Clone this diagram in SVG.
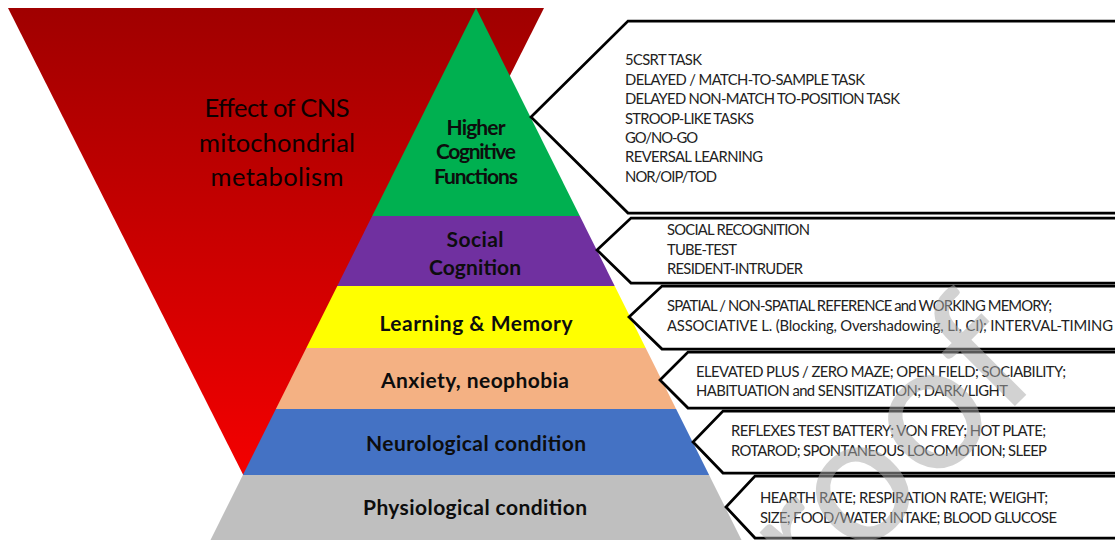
<svg xmlns="http://www.w3.org/2000/svg" width="1115" height="540" viewBox="0 0 1115 540">
  <defs>
    <linearGradient id="redFade" gradientUnits="userSpaceOnUse" x1="0" y1="8" x2="0" y2="540">
      <stop offset="0" stop-color="#A00000"/>
      <stop offset="1" stop-color="#FF0000"/>
    </linearGradient>
  </defs>
  <style>
    .lvl { font-family: Lato, "Liberation Sans", sans-serif; font-weight: bold; font-size: 21px; fill: #0d0d0d; text-anchor: middle; }
    .effect { font-family: Lato, "Liberation Sans", sans-serif; font-size: 25.5px; fill: #0d0000; text-anchor: middle; }
    .box { fill: #ffffff; stroke: #000000; stroke-width: 2.75; stroke-linejoin: miter; }
    .item { font-family: Lato, "Liberation Sans", sans-serif; font-size: 14.8px; fill: #222222; }
    .mark { font-family: Lato, "Liberation Sans", sans-serif; font-size: 180px; fill: #a8a8a8; fill-opacity: 0.52; }
  </style>

  <rect width="1115" height="540" fill="#ffffff"/>

  <!-- inverted triangle: metabolic effect -->
  <g id="cns-effect">
    <polygon points="8,8 544,8 276,540" fill="url(#redFade)"/>
    <text class="effect" x="277" y="117" textLength="145">Effect of CNS</text>
    <text class="effect" x="277" y="152" textLength="156">mitochondrial</text>
    <text class="effect" x="277" y="186" textLength="133">metabolism</text>
  </g>

  <!-- pyramid levels, apex (476,8), base y=540 -->
  <g id="level-higher-cognitive">
    <polygon points="476,8 579.8,216 372.2,216" fill="#00B050"/>
    <text class="lvl" x="476" y="135" font-size="18.5" textLength="59">Higher</text>
    <text class="lvl" x="476" y="159" font-size="18.5" textLength="80">Cognitive</text>
    <text class="lvl" x="476" y="184" font-size="18.5" textLength="84">Functions</text>
  </g>
  <g id="level-social">
    <polygon points="372.2,216 579.8,216 614.7,286 337.3,286" fill="#7030A0"/>
    <text class="lvl" x="475" y="247" textLength="57">Social</text>
    <text class="lvl" x="475" y="275" textLength="92">Cognition</text>
  </g>
  <g id="level-learning">
    <polygon points="337.3,286 614.7,286 645.7,348 306.3,348" fill="#FFFF00"/>
    <text class="lvl" x="476" y="331" textLength="193">Learning &amp; Memory</text>
  </g>
  <g id="level-anxiety">
    <polygon points="306.3,348 645.7,348 676.1,409 275.9,409" fill="#F4B183"/>
    <text class="lvl" x="475" y="388" textLength="188">Anxiety, neophobia</text>
  </g>
  <g id="level-neurological">
    <polygon points="275.9,409 676.1,409 709.1,475 242.9,475" fill="#4472C4"/>
    <text class="lvl" x="476" y="451" textLength="220">Neurological condition</text>
  </g>
  <g id="level-physiological">
    <polygon points="242.9,475 709.1,475 741.5,540 210.5,540" fill="#BFBFBF"/>
    <text class="lvl" x="475" y="515" textLength="224">Physiological condition</text>
  </g>

  <!-- test callouts pointing at each level -->
  <g id="tests-higher-cognitive">
    <polygon class="box" points="628,21 1125,21 1125,213 628,213 531,117"/>
    <text class="item" x="625" y="65" textLength="77">5CSRT TASK</text>
    <text class="item" x="625" y="84.5" textLength="240">DELAYED / MATCH-TO-SAMPLE TASK</text>
    <text class="item" x="625" y="104" textLength="275">DELAYED NON-MATCH TO-POSITION TASK</text>
    <text class="item" x="625" y="123.5" textLength="129">STROOP-LIKE TASKS</text>
    <text class="item" x="625" y="143" textLength="73">GO/NO-GO</text>
    <text class="item" x="625" y="162" textLength="138">REVERSAL LEARNING</text>
    <text class="item" x="625" y="182" textLength="92">NOR/OIP/TOD</text>
  </g>
  <g id="tests-social">
    <polygon class="box" points="631,218 1125,218 1125,283 631,283 597,250"/>
    <text class="item" x="667" y="235" textLength="143">SOCIAL RECOGNITION</text>
    <text class="item" x="667" y="254.5" textLength="70">TUBE-TEST</text>
    <text class="item" x="667" y="274" textLength="136">RESIDENT-INTRUDER</text>
  </g>
  <g id="tests-learning">
    <polygon class="box" points="662,286 1125,286 1125,349 662,349 629,317"/>
    <text class="item" x="667" y="311" textLength="385">SPATIAL / NON-SPATIAL REFERENCE and WORKING MEMORY;</text>
    <text class="item" x="667" y="331" textLength="446">ASSOCIATIVE L. (Blocking, Overshadowing, LI, CI); INTERVAL-TIMING</text>
  </g>
  <g id="tests-anxiety">
    <polygon class="box" points="688,352 1125,352 1125,408 688,408 660,380"/>
    <text class="item" x="696" y="376.5" textLength="370">ELEVATED PLUS / ZERO MAZE; OPEN FIELD; SOCIABILITY;</text>
    <text class="item" x="696" y="395.5" textLength="312">HABITUATION and SENSITIZATION; DARK/LIGHT</text>
  </g>
  <g id="tests-neurological">
    <polygon class="box" points="723,411 1125,411 1125,473 723,473 693,442"/>
    <text class="item" x="731" y="435.5" textLength="315">REFLEXES TEST BATTERY; VON FREY; HOT PLATE;</text>
    <text class="item" x="731" y="455.5" textLength="316">ROTAROD; SPONTANEOUS LOCOMOTION; SLEEP</text>
  </g>
  <g id="tests-physiological">
    <polygon class="box" points="755,476 1125,476 1125,538 755,538 726,507"/>
    <text class="item" x="760" y="503" textLength="288">HEARTH RATE; RESPIRATION RATE; WEIGHT;</text>
    <text class="item" x="760" y="523" textLength="297">SIZE; FOOD/WATER INTAKE; BLOOD GLUCOSE</text>
  </g>

  <!-- diagonal watermark -->
  <text class="mark" x="0" y="0" transform="translate(815,606) rotate(-45)">roof</text>
</svg>
